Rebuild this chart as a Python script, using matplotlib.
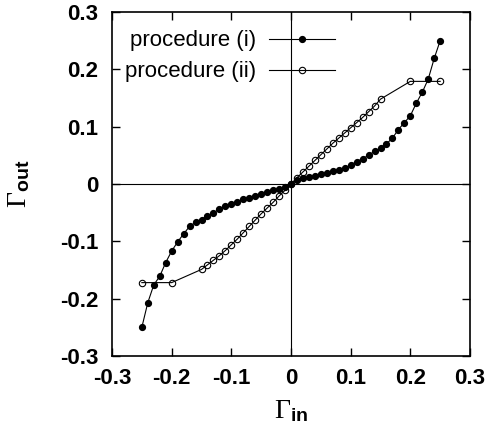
import matplotlib
matplotlib.use("Agg")
import matplotlib.pyplot as plt
import numpy as np

# procedure (i): filled circles
x1 = [-0.25, -0.24, -0.23, -0.22, -0.21, -0.20, -0.19, -0.18, -0.17, -0.16,
      -0.15, -0.14, -0.13, -0.12, -0.11, -0.10, -0.09, -0.08, -0.07, -0.06,
      -0.05, -0.04, -0.03, -0.02, -0.01, 0.00, 0.01, 0.02, 0.03, 0.04,
      0.05, 0.06, 0.07, 0.08, 0.09, 0.10, 0.11, 0.12, 0.13, 0.14,
      0.15, 0.16, 0.17, 0.18, 0.19, 0.20, 0.21, 0.22, 0.23, 0.24, 0.25]
y1 = [-0.250, -0.207, -0.176, -0.161, -0.137, -0.117, -0.101, -0.087, -0.074, -0.067,
      -0.062, -0.056, -0.050, -0.044, -0.039, -0.035, -0.031, -0.027, -0.024, -0.021,
      -0.017, -0.014, -0.011, -0.009, -0.006, 0.000, 0.007, 0.010, 0.012, 0.014,
      0.017, 0.020, 0.022, 0.025, 0.028, 0.033, 0.039, 0.044, 0.050, 0.057,
      0.062, 0.070, 0.080, 0.095, 0.107, 0.119, 0.141, 0.160, 0.183, 0.219, 0.250]

# procedure (ii): open circles
x2 = [-0.25, -0.20, -0.15, -0.14, -0.13, -0.12, -0.11, -0.10, -0.09, -0.08,
      -0.07, -0.06, -0.05, -0.04, -0.03, -0.02, -0.01, 0.00, 0.01, 0.02,
      0.03, 0.04, 0.05, 0.06, 0.07, 0.08, 0.09, 0.10, 0.11, 0.12,
      0.13, 0.14, 0.15, 0.20, 0.25]
y2 = [-0.172, -0.172, -0.149, -0.141, -0.133, -0.125, -0.116, -0.106, -0.096, -0.085,
      -0.074, -0.063, -0.052, -0.042, -0.032, -0.021, -0.011, 0.000, 0.011, 0.021,
      0.031, 0.041, 0.051, 0.061, 0.071, 0.080, 0.089, 0.098, 0.107, 0.116,
      0.126, 0.136, 0.148, 0.179, 0.179]

ticks = [-0.3, -0.2, -0.1, 0, 0.1, 0.2, 0.3]
tick_labels = ["-0.3", "-0.2", "-0.1", "0", "0.1", "0.2", "0.3"]
labels = ["procedure (i)", "procedure (ii)"]

plt.rcParams['font.family'] = ['Liberation Sans', 'DejaVu Sans']
plt.rcParams['mathtext.fontset'] = 'custom'
plt.rcParams['mathtext.rm'] = 'Liberation Serif'
plt.rcParams['mathtext.it'] = 'Liberation Serif:italic'
plt.rcParams['mathtext.bf'] = 'Liberation Sans:bold'

fig = plt.figure(figsize=(4.88, 4.28), dpi=100)
ax = fig.add_axes([112/488, 72/428, 358/488, 344/428])

ax.axhline(0, color='black', lw=0.8, zorder=1)
ax.axvline(0, color='black', lw=0.8, zorder=1)

ax.plot(x1, y1, color='black', lw=0.8, marker='o', ms=4.2,
        mfc='black', mec='black', label=labels[0], zorder=3)
ax.plot(x2, y2, color='black', lw=0.8, marker='o', ms=4.6,
        mfc='none', mec='black', mew=0.8, label=labels[1], zorder=2)

ax.set_xlim(-0.3, 0.3)
ax.set_ylim(-0.3, 0.3)
ax.set_xticks(ticks)
ax.set_yticks(ticks)
ax.set_xticklabels(tick_labels, fontweight='bold', fontsize=16)
ax.set_yticklabels(tick_labels, fontweight='bold', fontsize=16)
ax.tick_params(direction='in', length=6, width=1.0, top=True, right=True)
ax.tick_params(axis='x', pad=9)
ax.tick_params(axis='y', pad=10)
for s in ax.spines.values():
    s.set_linewidth(1.2)

ax.set_xlabel(r'$\Gamma_{\mathbf{in}}$', fontsize=20, labelpad=6)
ax.set_ylabel(r'$\Gamma_{\mathbf{out}}$', fontsize=20, labelpad=20)

leg = ax.legend(loc='upper left', bbox_to_anchor=(0.0, 0.985), frameon=False,
                markerfirst=False, fontsize=16, handlelength=3.0,
                handletextpad=0.55, labelspacing=0.45, numpoints=1,
                borderaxespad=0.2)

fig.savefig('out.png', dpi=100)
